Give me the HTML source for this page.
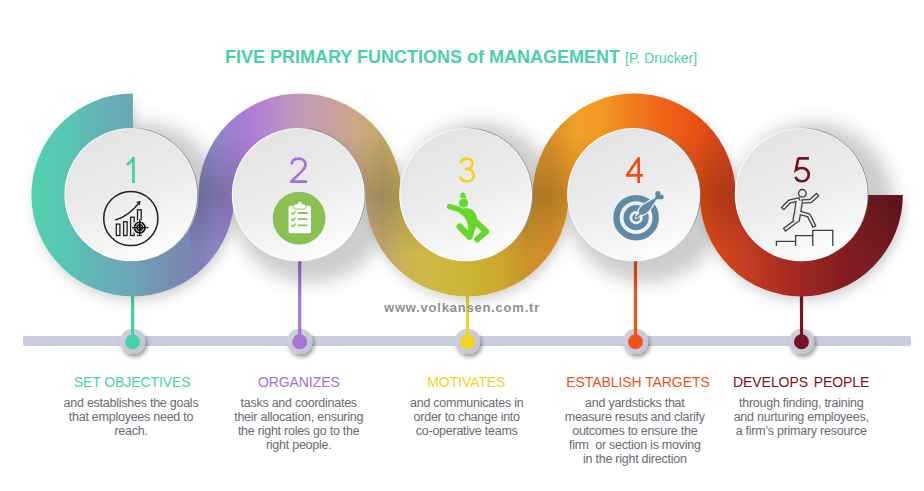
<!DOCTYPE html>
<html><head><meta charset="utf-8">
<style>
html,body{margin:0;padding:0;background:#fff;}
body{width:924px;height:491px;overflow:hidden;position:relative;font-family:"Liberation Sans",sans-serif;}
svg{position:absolute;left:0;top:0;}
</style></head><body>
<svg width="924" height="491" viewBox="0 0 924 491" font-family="Liberation Sans">
<defs>
<linearGradient id="rib" gradientUnits="userSpaceOnUse" x1="31" y1="0" x2="903" y2="0">
<stop offset="0.0000" stop-color="#50d2b2"/>
<stop offset="0.0447" stop-color="#58c4b2"/>
<stop offset="0.0791" stop-color="#64b2b6"/>
<stop offset="0.1158" stop-color="#6ca4b8"/>
<stop offset="0.1537" stop-color="#7490b0"/>
<stop offset="0.1915" stop-color="#7e80b4"/>
<stop offset="0.2122" stop-color="#8c86c6"/>
<stop offset="0.2328" stop-color="#a07ed0"/>
<stop offset="0.2511" stop-color="#ae7cd8"/>
<stop offset="0.2798" stop-color="#b98ac8"/>
<stop offset="0.3085" stop-color="#c29ab8"/>
<stop offset="0.3429" stop-color="#c8a0a0"/>
<stop offset="0.3716" stop-color="#cca884"/>
<stop offset="0.3888" stop-color="#c6a874"/>
<stop offset="0.4037" stop-color="#bfa46a"/>
<stop offset="0.4232" stop-color="#c8b058"/>
<stop offset="0.4461" stop-color="#d0b84a"/>
<stop offset="0.5000" stop-color="#cab634"/>
<stop offset="0.5378" stop-color="#cca82e"/>
<stop offset="0.5677" stop-color="#c9922c"/>
<stop offset="0.5952" stop-color="#d68e2a"/>
<stop offset="0.6239" stop-color="#f0a026"/>
<stop offset="0.6525" stop-color="#f29a22"/>
<stop offset="0.6915" stop-color="#f07a1e"/>
<stop offset="0.7271" stop-color="#ee6218"/>
<stop offset="0.7592" stop-color="#e85418"/>
<stop offset="0.7878" stop-color="#d4461a"/>
<stop offset="0.8154" stop-color="#c84020"/>
<stop offset="0.8475" stop-color="#b43222"/>
<stop offset="0.8830" stop-color="#a02822"/>
<stop offset="0.9220" stop-color="#8a2022"/>
<stop offset="0.9507" stop-color="#7c1c22"/>
<stop offset="0.9794" stop-color="#741a22"/>
<stop offset="1.0000" stop-color="#6c1622"/>
</linearGradient>
<linearGradient id="jd" gradientUnits="userSpaceOnUse" x1="0" y1="135" x2="0" y2="255">
<stop offset="0" stop-color="#000" stop-opacity="0"/>
<stop offset="0.5" stop-color="#000" stop-opacity="0.16"/>
<stop offset="1" stop-color="#000" stop-opacity="0"/>
</linearGradient>
<clipPath id="jclip"><rect x="190" y="0" width="734" height="491"/></clipPath>
<linearGradient id="plate" x1="0.3" y1="0" x2="0.7" y2="1">
<stop offset="0" stop-color="#e3e3e3"/>
<stop offset="0.5" stop-color="#ececec"/>
<stop offset="0.8" stop-color="#f6f6f6"/>
<stop offset="1" stop-color="#ffffff"/>
</linearGradient>
<linearGradient id="dotg" x1="0" y1="0" x2="1" y2="1">
<stop offset="0" stop-color="#cfd2dc"/>
<stop offset="1" stop-color="#c2c5cf"/>
</linearGradient>
<linearGradient id="rim" x1="0" y1="0.75" x2="1" y2="0.25">
<stop offset="0" stop-color="#fff" stop-opacity="0"/>
<stop offset="0.55" stop-color="#fff" stop-opacity="0"/>
<stop offset="0.8" stop-color="#777" stop-opacity="0.9"/>
<stop offset="1" stop-color="#777" stop-opacity="0.9"/>
</linearGradient>
<filter id="sh" x="-50%" y="-50%" width="200%" height="200%">
<feGaussianBlur in="SourceAlpha" stdDeviation="11"/>
<feOffset dx="7" dy="11" result="b"/>
<feComponentTransfer><feFuncA type="linear" slope="0.5"/></feComponentTransfer>
<feMerge><feMergeNode/><feMergeNode in="SourceGraphic"/></feMerge>
</filter>
<filter id="pso" x="-50%" y="-50%" width="200%" height="200%">
<feGaussianBlur in="SourceAlpha" stdDeviation="9"/>
<feComponentTransfer><feFuncA type="linear" slope="0.2"/></feComponentTransfer>
</filter>
<filter id="pso2" x="-50%" y="-50%" width="200%" height="200%">
<feGaussianBlur in="SourceAlpha" stdDeviation="8"/>
<feOffset dx="6" dy="6" result="b"/>
<feComponentTransfer><feFuncA type="linear" slope="0.18"/></feComponentTransfer>
</filter>
<filter id="rsh" x="-20%" y="-20%" width="140%" height="140%">
<feGaussianBlur in="SourceAlpha" stdDeviation="6"/>
<feOffset dx="2" dy="6" result="b"/>
<feComponentTransfer><feFuncA type="linear" slope="0.15"/></feComponentTransfer>
<feMerge><feMergeNode/><feMergeNode in="SourceGraphic"/></feMerge>
</filter>
<filter id="dsh" x="-50%" y="-50%" width="200%" height="200%">
<feGaussianBlur in="SourceAlpha" stdDeviation="2"/>
<feOffset dx="2" dy="2.5" result="b"/>
<feComponentTransfer><feFuncA type="linear" slope="0.38"/></feComponentTransfer>
<feMerge><feMergeNode/><feMergeNode in="SourceGraphic"/></feMerge>
</filter>
</defs>

<text x="225" y="63" font-size="18" font-weight="bold" fill="#4bd0aa">FIVE PRIMARY FUNCTIONS of MANAGEMENT <tspan font-weight="normal" font-size="14">[P. Drucker]</tspan></text>
<rect x="23" y="336" width="888" height="10" rx="2" fill="#c8cdd9"/>
<g filter="url(#dsh)"><circle cx="132.6" cy="341.4" r="12.7" fill="url(#dotg)"/><circle cx="299.7" cy="341.4" r="12.7" fill="url(#dotg)"/><circle cx="467.5" cy="341.4" r="12.7" fill="url(#dotg)"/><circle cx="635.5" cy="341.4" r="12.7" fill="url(#dotg)"/><circle cx="801.5" cy="341.4" r="12.7" fill="url(#dotg)"/></g>
<rect x="131.0" y="195.0" width="3.2" height="146" fill="#47d0aa"/>
<rect x="298.1" y="195.0" width="3.2" height="146" fill="#a872d6"/>
<rect x="465.9" y="195.0" width="3.2" height="146" fill="#f0d424"/>
<rect x="633.9" y="195.0" width="3.2" height="146" fill="#f0521c"/>
<rect x="799.9" y="195.0" width="3.2" height="146" fill="#7a1226"/>
<circle cx="132.6" cy="341.8" r="7.45" fill="#47d0aa"/>
<circle cx="299.7" cy="341.8" r="7.45" fill="#a872d6"/>
<circle cx="467.5" cy="341.8" r="7.45" fill="#f0d424"/>
<circle cx="635.5" cy="341.8" r="7.45" fill="#f0521c"/>
<circle cx="801.5" cy="341.8" r="7.45" fill="#7a1226"/>
<text x="384" y="312" font-weight="bold" font-size="13" fill="#909090" letter-spacing="0.78">www.volkansen.com.tr</text>
<g filter="url(#pso)"><circle cx="143.0" cy="202.7" r="80" fill="#000"/><circle cx="310.4" cy="202.7" r="80" fill="#000"/><circle cx="477.8" cy="202.7" r="80" fill="#000"/><circle cx="645.7" cy="202.7" r="80" fill="#000"/><circle cx="813.4" cy="202.7" r="80" fill="#000"/></g>
<g filter="url(#rsh)"><path d="M132.9,111.45 A83.55,83.55 0 0 0 49.35,195.0 A83.55,83.55 0 0 0 132.9,278.55 A83.55,83.55 0 0 0 216.45,195.0 A83.55,83.55 0 0 1 383.55,195.0 A83.55,83.55 0 0 0 550.65,195.0 A83.55,83.55 0 0 1 717.75,195.0 A83.55,83.55 0 0 0 884.85,195.0" fill="none" stroke="url(#rib)" stroke-width="35.9"/></g>
<path d="M132.9,111.45 A83.55,83.55 0 0 0 49.35,195.0 A83.55,83.55 0 0 0 132.9,278.55 A83.55,83.55 0 0 0 216.45,195.0 A83.55,83.55 0 0 1 383.55,195.0 A83.55,83.55 0 0 0 550.65,195.0 A83.55,83.55 0 0 1 717.75,195.0 A83.55,83.55 0 0 0 884.85,195.0" fill="none" stroke="url(#jd)" stroke-width="35.9" clip-path="url(#jclip)"/>
<g><circle cx="131.0" cy="194.7" r="66.6" fill="#fff"/><circle cx="298.4" cy="194.7" r="66.6" fill="#fff"/><circle cx="465.8" cy="194.7" r="66.6" fill="#fff"/><circle cx="633.7" cy="194.7" r="66.6" fill="#fff"/><circle cx="801.4" cy="194.7" r="66.6" fill="#fff"/></g>
<g fill="url(#plate)"><circle cx="131.0" cy="194.7" r="65.6"/><circle cx="298.4" cy="194.7" r="65.6"/><circle cx="465.8" cy="194.7" r="65.6"/><circle cx="633.7" cy="194.7" r="65.6"/><circle cx="801.4" cy="194.7" r="65.6"/></g>
<g fill="none" stroke="url(#rim)" stroke-width="0.8"><circle cx="131.0" cy="194.7" r="66.69999999999999"/><circle cx="298.4" cy="194.7" r="66.69999999999999"/><circle cx="465.8" cy="194.7" r="66.69999999999999"/><circle cx="633.7" cy="194.7" r="66.69999999999999"/><circle cx="801.4" cy="194.7" r="66.69999999999999"/></g>
<g fill="none" stroke-width="2.7" stroke-linecap="butt" stroke-linejoin="miter">
<path stroke="#45d0aa" d="M133.45,183 V157.0 M133.7,157.8 C132,160.8 130,162.8 126.9,164.6"/>
<path stroke="#a66fdc" d="M291.6,164.4 C291.8,160.6 294.8,158.65 298.6,158.65 C302.6,158.65 305.5,161.2 305.5,164.6 C305.5,167.4 303.8,169.4 301.6,171.4 L292.2,180.6 M290.2,181.6 H307.1"/>
<path stroke="#f0d41c" d="M460.5,163.4 C461.2,160.4 463.8,158.55 467,158.55 C470.2,158.55 472.5,160.6 472.5,163.3 C472.5,166.5 469.8,168.9 466.4,168.9 H465.0 M466.4,168.9 C470.8,168.9 473.75,171.8 473.75,175.4 C473.75,178.9 470.9,181.25 467,181.25 C463.4,181.25 460.8,179.4 460.2,176.3"/>
<path stroke="#f04c18" d="M638.65,183 V157.2 M638.4,158.4 L627.6,174.2 M626,175.45 H642.9"/>
<path stroke="#7c1020" d="M808.9,158.4 H798.0 M798.3,158.2 L796.0,169.8 C797.6,168.6 799.6,168.0 802.1,168.0 C806,168.0 808.75,171 808.75,174.6 C808.75,178.4 805.8,181.25 802.1,181.25 C798.8,181.25 796.4,179.4 795.6,176.8"/>
</g>
<g fill="none" stroke="#1e1e1e" stroke-width="1.3">
<circle cx="130.8" cy="218.5" r="27.1" stroke-width="1.5"/>
<rect x="116.3" y="224.1" width="3.6" height="11.4"/>
<rect x="123.6" y="221.7" width="3.5" height="13.8"/>
<rect x="130.6" y="217.2" width="3.6" height="18.3"/>
<rect x="137.5" y="209.8" width="3.7" height="25.7"/>
<path d="M115.3,220 C123,218 132,212 139.7,202"/>
<path d="M136.6,202.3 L139.9,201.7 L139.1,205"/>
</g>
<circle cx="139.7" cy="227.6" r="7.6" fill="#ececec"/>
<g fill="none" stroke="#111" stroke-width="1.4">
<circle cx="139.7" cy="227.6" r="5.3" stroke-width="1.6"/>
<circle cx="139.7" cy="227.6" r="2.8"/>
<path d="M132,227.6 H148.3 M139.7,219.6 V236.1"/>
</g>
<circle cx="139.7" cy="227.6" r="1.4" fill="#111"/>

<circle cx="299.1" cy="218.1" r="26.4" fill="#8bc152"/>
<rect x="288.6" y="205.8" width="22.3" height="27.4" rx="1.6" fill="#fff"/>
<rect x="293.6" y="203.9" width="12.4" height="5.2" rx="2" fill="#fff" stroke="#8bc152" stroke-width="0.9"/>
<circle cx="299.7" cy="203.4" r="2" fill="#fff"/>
<circle cx="299.7" cy="203.3" r="0.7" fill="#8bc152"/>
<g fill="none" stroke="#8bc152" stroke-width="1.6">
<path d="M291.3,212.8 L292.9,214.4 L295.5,211.3 M291.3,218.9 L292.9,220.5 L295.5,217.4 M291.3,225 L292.9,226.6 L295.5,223.5"/>
<path d="M297.7,213 H307.4 M297.7,219.1 H307.4 M297.7,225.3 H307.4" stroke-width="1.8"/>
</g>

<g fill="#66d82a" stroke="#66d82a" stroke-linecap="round" stroke-linejoin="round">
<path d="M460.2,197.6 L460.4,194.2 A2.4,2.4 0 0 1 464.8,193.6 L466.6,198.4 Z" stroke="none"/>
<path d="M449.6,206.6 L461.5,210.2" stroke-width="5.4" fill="none"/>
<path d="M458.5,209.6 C461,207.6 465,207.6 470.3,208.7 C474.5,210.5 476.6,214.5 477.6,220.5 C477.8,224 476,228 474.6,231 L472.6,237.6 L468.6,236 L468.2,230 C468.4,226 467.6,221.5 465.2,218.2 C463.6,216 461.5,214.4 459.4,213.2 Z" stroke="none"/>
<path d="M459.7,226.7 L469.6,236.8" stroke-width="6.4" fill="none"/>
<path d="M476.4,222.6 L486.1,231.4 L477.3,239.2" stroke-width="6.1" fill="none"/>
</g>
<circle cx="463.6" cy="203.1" r="5.3" fill="#ececec"/>
<circle cx="463.6" cy="203.1" r="4.6" fill="#66d82a"/>

<g fill="none" stroke="#5f8ba6">
<circle cx="636.1" cy="217.7" r="19.6" stroke-width="6.4"/>
<circle cx="636.1" cy="217.7" r="9.6" stroke-width="6"/>
<circle cx="636.1" cy="217.7" r="2.5" stroke-width="2.6"/>
</g>
<path d="M636.3,217.5 L641,212.8" stroke="#ececec" stroke-width="4.2"/>
<path d="M655.01,198.03 L654.21,198.48 L653.40,198.93 L652.59,199.39 L651.79,199.84 L650.98,200.30 L650.18,200.76 L649.38,201.22 L648.58,201.68 L647.78,202.14 L646.99,202.61 L646.20,203.08 L645.41,203.55 L644.62,204.02 L643.84,204.50 L643.06,204.99 L642.38,205.58 L641.78,206.25 L641.18,206.93 L640.58,207.61 L639.98,208.29 L639.37,209.03 L638.97,209.91 L638.80,210.86 L638.89,211.82 L639.23,212.73 L639.79,213.52 L640.53,214.13 L641.41,214.53 L642.36,214.70 L643.32,214.61 L644.23,214.27 L645.02,213.71 L645.74,213.17 L646.46,212.62 L647.18,212.07 L647.90,211.53 L648.53,210.89 L649.08,210.15 L649.62,209.41 L650.15,208.66 L650.68,207.91 L651.21,207.15 L651.73,206.39 L652.25,205.63 L652.77,204.87 L653.29,204.11 L653.81,203.34 L654.32,202.57 L654.84,201.81 L655.35,201.04 L655.86,200.27 L656.37,199.49 Z" fill="#ececec" stroke="#ececec" stroke-width="2.6" stroke-linejoin="round"/>
<path d="M636.3,217.5 L641,212.8" stroke="#5f8ba6" stroke-width="1.8"/>
<path d="M655.01,198.03 L654.21,198.48 L653.40,198.93 L652.59,199.39 L651.79,199.84 L650.98,200.30 L650.18,200.76 L649.38,201.22 L648.58,201.68 L647.78,202.14 L646.99,202.61 L646.20,203.08 L645.41,203.55 L644.62,204.02 L643.84,204.50 L643.06,204.99 L642.38,205.58 L641.78,206.25 L641.18,206.93 L640.58,207.61 L639.98,208.29 L639.37,209.03 L638.97,209.91 L638.80,210.86 L638.89,211.82 L639.23,212.73 L639.79,213.52 L640.53,214.13 L641.41,214.53 L642.36,214.70 L643.32,214.61 L644.23,214.27 L645.02,213.71 L645.74,213.17 L646.46,212.62 L647.18,212.07 L647.90,211.53 L648.53,210.89 L649.08,210.15 L649.62,209.41 L650.15,208.66 L650.68,207.91 L651.21,207.15 L651.73,206.39 L652.25,205.63 L652.77,204.87 L653.29,204.11 L653.81,203.34 L654.32,202.57 L654.84,201.81 L655.35,201.04 L655.86,200.27 L656.37,199.49 Z" fill="#5f8ba6"/>
<g fill="#5f8ba6"><path d="M655.0,199.4 L662.67,198.70 L661.10,197.01 L657.84,193.49 L656.28,191.81 Z"/><circle cx="661.10" cy="197.01" r="2.5"/><circle cx="657.84" cy="193.49" r="2.5"/></g>
<g fill="none" stroke="#3a3f42" stroke-width="1.3" stroke-linejoin="miter">
<path d="M776.4,246 V241.4 H795.6 V246 M795.6,241.4 V235.7 H812.8 V246 M812.8,235.7 V230.3 H832.8 V246"/>
<circle cx="802.3" cy="193.3" r="3.8" stroke-width="1.35"/>
</g>
<g fill="none" stroke-linecap="square" stroke-linejoin="round">
<g stroke="#3a3f42"><path d="M797.8,199.6 L789.4,201.6 L783.8,207.4" stroke-width="4.5"/><path d="M803.6,201.4 L810.6,201 L816.4,195.6" stroke-width="4.5"/><path d="M796.2,221 L785.8,228.8" stroke-width="4.5"/><path d="M800.2,213 L808.8,215.4 L813.6,225" stroke-width="4.5"/><path d="M799.4,200.4 L797.6,212.4 L796,221" stroke-width="7.6" stroke-linecap="butt"/></g>
<g stroke="#ececec"><path d="M797.8,199.6 L789.4,201.6 L783.8,207.4" stroke-width="1.9"/><path d="M803.6,201.4 L810.6,201 L816.4,195.6" stroke-width="1.9"/><path d="M796.2,221 L785.8,228.8" stroke-width="1.9"/><path d="M800.2,213 L808.8,215.4 L813.6,225" stroke-width="1.9"/><path d="M799.4,200.4 L797.6,212.4 L796,221" stroke-width="5.0" stroke-linecap="butt"/></g>
</g>
<text x="132.2" y="386.8" font-size="14" letter-spacing="-0.08" text-anchor="middle" fill="#4bd0ac">SET OBJECTIVES</text>
<g font-size="12.5" letter-spacing="-0.25" text-anchor="middle" fill="#6a6a72">
<text x="131.0" y="406.6">and establishes the goals</text>
<text x="131.0" y="420.7">that employees need to</text>
<text x="131.0" y="434.8">reach.</text>
</g>
<text x="298.8" y="386.8" font-size="14" letter-spacing="-0.08" text-anchor="middle" fill="#a66fdc">ORGANIZES</text>
<g font-size="12.5" letter-spacing="-0.25" text-anchor="middle" fill="#6a6a72">
<text x="298.7" y="406.6">tasks and coordinates</text>
<text x="298.7" y="420.7">their allocation, ensuring</text>
<text x="298.7" y="434.8">the right roles go to the</text>
<text x="298.7" y="448.9">right people.</text>
</g>
<text x="466.3" y="386.8" font-size="14" letter-spacing="-0.08" text-anchor="middle" fill="#f0d424">MOTIVATES</text>
<g font-size="12.5" letter-spacing="-0.25" text-anchor="middle" fill="#6a6a72">
<text x="466.7" y="406.6">and communicates in</text>
<text x="466.7" y="420.7">order to change into</text>
<text x="466.7" y="434.8">co-operative teams</text>
</g>
<text x="638.0" y="386.8" font-size="14" letter-spacing="-0.08" text-anchor="middle" fill="#f05020">ESTABLISH TARGETS</text>
<g font-size="12.5" letter-spacing="-0.25" text-anchor="middle" fill="#6a6a72">
<text x="634.8" y="406.6">and yardsticks that</text>
<text x="634.8" y="420.7">measure resuts and clarify</text>
<text x="634.8" y="434.8">outcomes to ensure the</text>
<text x="634.8" y="448.9">firm  or section is moving</text>
<text x="634.8" y="463.0">in the right direction</text>
</g>
<text x="801.2" y="386.8" font-size="14" letter-spacing="-0.08" text-anchor="middle" fill="#7a1022">DEVELOPS<tspan dx="2"> </tspan>PEOPLE</text>
<g font-size="12.5" letter-spacing="-0.25" text-anchor="middle" fill="#6a6a72">
<text x="801.2" y="406.6">through finding, training</text>
<text x="801.2" y="420.7">and nurturing employees,</text>
<text x="801.2" y="434.8">a firm’s primary resource</text>
</g>
</svg>
</body></html>
